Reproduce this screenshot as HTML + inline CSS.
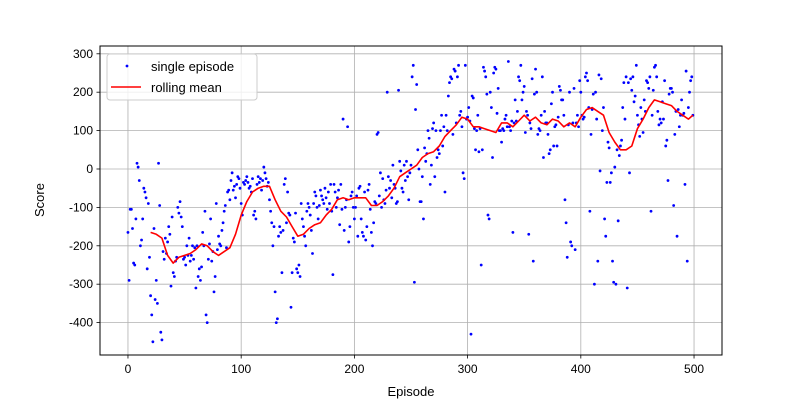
<!DOCTYPE html>
<html><head><meta charset="utf-8"><style>
body{margin:0;background:#fff}
svg{display:block;font-family:"Liberation Sans","DejaVu Sans",sans-serif}
</style></head><body>
<svg id="chart" width="800" height="400">
<rect x="0" y="0" width="800" height="400" fill="#fff"/>
<g id="grid"></g>
<g id="pts"></g>
<g id="roll"></g>
<rect x="100" y="46" width="622" height="309" fill="none" stroke="#000" stroke-width="1"/>
<g id="ticks"></g>
<text x="411" y="396" font-size="13" text-anchor="middle">Episode</text>
<text x="44" y="200" font-size="13" text-anchor="middle" transform="rotate(-90 44 200)">Score</text>
<g>
<rect x="107" y="54" width="150" height="46" rx="3" fill="#fff" fill-opacity="0.8" stroke="#ccc"/>
<circle cx="127" cy="66" r="1.4" fill="#0000ff"/>
<text x="151" y="71" font-size="13">single episode</text>
<line x1="111" y1="87" x2="141" y2="87" stroke="#ff0000" stroke-width="1.6"/>
<text x="151" y="92" font-size="13">rolling mean</text>
</g>
</svg>
<script>
const xTicks=[0,100,200,300,400,500];
const yTicks=[-400,-300,-200,-100,0,100,200,300];
const scores=[
-165,-290,-105,-105,-155,-245,-250,-130,15,5,
-30,-200,-185,-130,-50,-60,-75,-260,-90,-230,
-330,-380,-450,-155,-340,-290,-350,15,-95,-425,
-445,-215,-235,-180,-220,-190,-150,-170,-305,-125,
-270,-280,-240,-230,-100,-115,-85,-125,-150,-235,
-230,-250,-200,-225,-180,-240,-225,-200,-235,-205,
-310,-200,-280,-260,-290,-255,-165,-200,-110,-380,
-400,-235,-195,-130,-240,-215,-320,-280,-90,-210,
-175,-195,-200,-160,-140,-110,-95,-205,-60,-55,
-80,-30,-10,-55,-45,-75,-40,-20,-25,-50,
-90,-120,-35,-40,-30,-20,-35,-50,-45,-60,
-25,-120,-110,-130,-40,-20,-35,-25,-55,-30,
5,-10,-25,-45,-35,-80,-110,-140,-200,-150,
-320,-400,-390,-175,-150,-165,-270,-160,-40,-25,
-140,-60,-115,-120,-360,-270,-180,-190,-115,-260,
-270,-250,-280,-90,-130,-150,-175,-200,-110,-90,
-100,-120,-160,-220,-90,-60,-70,-100,-130,-95,
-55,-70,-80,-90,-50,-75,-105,-60,-90,-40,
-110,-275,-40,-60,-100,-75,-55,-145,-40,-105,
130,-160,-100,-80,110,-190,-150,-70,-60,-100,
-130,-100,-70,-175,-50,-45,-130,-165,-175,-60,
-185,-150,-55,-40,-105,-165,-200,-140,-85,-90,
90,95,-70,-10,-100,-25,-80,-90,-55,200,
-20,-50,-30,-75,10,-40,-50,-90,-85,205,
20,-5,-50,-60,10,-30,20,-20,-80,-10,
10,240,270,-295,155,220,50,0,-85,-85,
-20,-130,55,20,40,100,80,-40,10,105,
120,-20,100,30,50,40,100,140,60,110,
-60,140,100,190,225,240,235,90,260,255,
120,240,270,140,150,110,-10,-25,270,130,
135,160,125,-430,190,185,105,50,100,140,
45,105,-250,50,265,255,240,195,-120,-130,
200,160,30,250,265,260,145,210,100,100,
70,105,100,130,140,110,280,110,100,125,
-165,120,180,125,150,240,230,270,180,200,
215,95,150,140,-170,120,105,235,-240,195,
260,200,90,105,100,140,240,30,150,120,
120,90,40,50,170,200,60,110,115,60,
135,215,205,180,180,140,-80,-140,-230,115,
200,-190,-200,120,210,-210,120,140,110,230,
200,140,130,135,240,250,230,160,-110,90,
155,195,-300,200,130,-240,245,-5,235,100,
160,-130,-175,-35,70,55,-35,-10,-240,-295,
5,-300,50,-135,35,60,75,160,225,130,
240,-310,225,-10,235,205,240,175,190,270,
140,115,85,160,130,95,180,150,230,225,
210,240,-110,140,205,265,270,240,150,115,
130,120,175,130,230,60,75,-30,195,210,
210,200,-95,90,150,-175,155,110,140,180,
140,145,-40,255,-240,160,200,230,240,140];
const rollEpisodes=[20,25,30,35,40,45,50,55,60,65,70,75,80,85,90,95,100,105,110,115,120,125,130,135,140,145,150,155,160,165,170,175,180,185,190,195,200,205,210,215,220,225,230,235,240,245,250,255,260,265,270,275,280,285,290,295,300,305,310,315,320,325,330,335,340,345,350,355,360,365,370,375,380,385,390,395,400,405,410,415,420,425,430,435,440,445,450,455,460,465,470,475,480,485,490,495,499];
const rollValues=[-165,-170,-180,-225,-245,-230,-225,-220,-210,-195,-200,-215,-225,-215,-205,-170,-120,-85,-60,-50,-45,-45,-80,-110,-125,-150,-175,-170,-155,-145,-140,-120,-105,-80,-75,-80,-75,-75,-75,-95,-95,-85,-70,-50,-20,-10,0,10,30,40,45,60,85,100,115,135,130,110,110,105,100,95,120,120,110,125,140,125,135,120,115,130,125,110,120,110,135,155,160,150,140,95,70,50,50,60,105,130,160,180,175,170,165,150,140,130,140];

const NS='http://www.w3.org/2000/svg';
const L=100,R=722,T=46,B=355;
const X0=-24.7,X1=524.7,Y0=-484.4,Y1=320.3;
function sx(v){return L+(v-X0)/(X1-X0)*(R-L);}
function sy(v){return B-(v-Y0)/(Y1-Y0)*(B-T);}
function mk(tag,attrs,parent){const e=document.createElementNS(NS,tag);for(const k in attrs)e.setAttribute(k,attrs[k]);parent.appendChild(e);return e;}
const grid=document.getElementById('grid'),ticks=document.getElementById('ticks');
xTicks.forEach(t=>{
  const x=sx(t);
  const g=mk('line',{x1:x,x2:x,y1:T,y2:B,stroke:'#b0b0b0','stroke-width':0.8},grid);
  
  
  const tk=mk('line',{x1:x,x2:x,y1:B,y2:B+3.5,stroke:'#000','stroke-width':0.8},ticks);
  
  
  const lb=mk('text',{x:x,y:B+18,'font-size':12,'text-anchor':'middle'},ticks);
  lb.textContent=t;
  
  
});
yTicks.forEach(t=>{
  const y=sy(t);
  const g=mk('line',{x1:L,x2:R,y1:y,y2:y,stroke:'#b0b0b0','stroke-width':0.8},grid);
  
  
  const tk=mk('line',{x1:L-3.5,x2:L,y1:y,y2:y,stroke:'#000','stroke-width':0.8},ticks);
  
  
  const lb=mk('text',{x:L-7,y:y+4,'font-size':12,'text-anchor':'end'},ticks);
  lb.textContent=t;
  
  
});
const pts=document.getElementById('pts');
scores.forEach((v,i)=>{
  const c=mk('circle',{cx:sx(i),cy:sy(v),r:1.4,fill:'#0000ff'},pts);
  
  
});
const roll=document.getElementById('roll');
const d=rollEpisodes.map((e,i)=>(i?'L':'M')+sx(e).toFixed(1)+' '+sy(rollValues[i]).toFixed(1)).join(' ');
const p=mk('path',{d:d,fill:'none',stroke:'#ff0000','stroke-width':1.6,'stroke-linejoin':'round'},roll);


</script>
</body></html>
